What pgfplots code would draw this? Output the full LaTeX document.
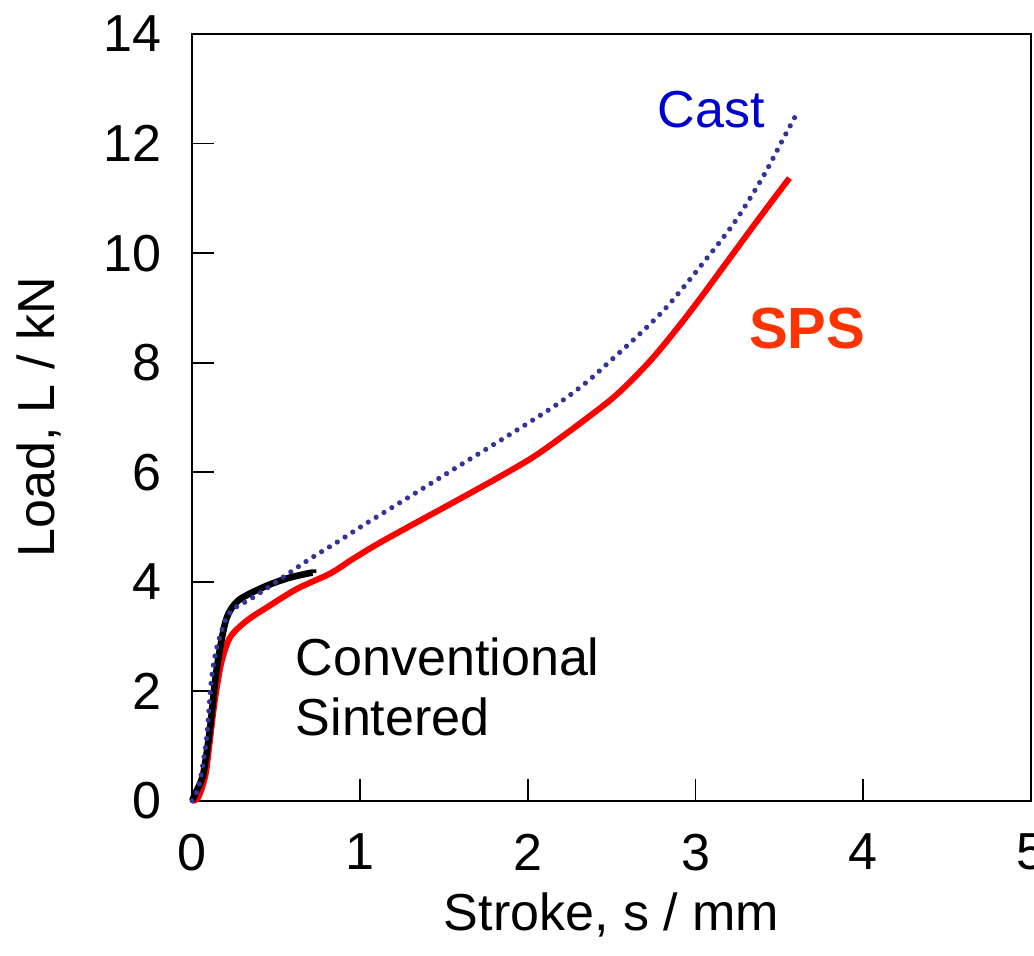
\documentclass[border=0pt]{standalone}
\usepackage{pgfplots}
\pgfplotsset{compat=1.18}
\usepackage{fontspec}
\setmainfont{Liberation Sans}

\definecolor{castdot}{HTML}{333399}
\definecolor{castlbl}{HTML}{0000CC}
\definecolor{spsline}{HTML}{FF0000}
\definecolor{spslbl}{HTML}{FF3300}

\begin{document}
\begin{tikzpicture}
\begin{axis}[
  scale only axis,
  width=419pt, height=383pt,
  xmin=0, xmax=5, ymin=0, ymax=14,
  xtick={0,1,2,3,4,5}, ytick={0,2,4,6,8,10,12,14},
  xtick pos=lower, ytick pos=left,
  tick align=inside,
  major tick length=11pt,
  axis line style={line width=1pt},
  every tick/.style={black, line width=0.9pt},
  tick label style={font=\fontsize{26}{30}\selectfont},
  /pgf/number format/assume math mode=true,
  xticklabel style={yshift=-13pt},
  yticklabel style={xshift=-12pt},
  xlabel={Stroke, s / mm},
  ylabel={Load, L / kN},
  label style={font=\fontsize{26}{30}\selectfont},
  xlabel style={yshift=-4pt},
  ylabel style={yshift=14pt},
  clip=false,
]
\coordinate (bl) at (rel axis cs:0,0);
\coordinate (tr) at (rel axis cs:1,1);

% SPS
\addplot[spsline, line width=3pt, smooth, tension=0.5] coordinates {
  (0,0) (0.036,0.06) (0.078,0.45) (0.100,0.95) (0.125,1.60) (0.147,2.07)
  (0.177,2.56) (0.227,2.99) (0.326,3.29) (0.445,3.53) (0.625,3.87)
  (0.823,4.15) (0.95,4.40) (1.10,4.68) (1.30,5.02) (1.54,5.42)
  (1.80,5.86) (2.035,6.28) (2.25,6.75) (2.49,7.31) (2.62,7.68)
  (2.75,8.10) (2.90,8.66) (3.03,9.18) (3.15,9.68) (3.27,10.18)
  (3.40,10.72) (3.56,11.37)
};

% Conventional sintered
\addplot[black, line width=3.3pt, smooth, tension=0.5] coordinates {
  (0,0) (0.018,0.13) (0.066,0.49) (0.107,1.34) (0.137,2.19) (0.167,2.80)
  (0.207,3.35) (0.276,3.66) (0.425,3.90) (0.565,4.06) (0.704,4.16) (0.72,4.16)
};

% Cast
\addplot[castdot, line width=2.6pt, line cap=round, dash pattern=on 0pt off 4.6pt, smooth, tension=0.5] coordinates {
  (0,0) (0.038,0.24) (0.067,0.73) (0.088,1.20) (0.107,1.95) (0.120,2.35)
  (0.147,2.80) (0.197,3.29) (0.245,3.50) (0.346,3.68) (0.445,3.88)
  (0.555,4.11) (0.704,4.42) (0.863,4.72) (1.03,5.05) (1.30,5.56)
  (1.625,6.18) (1.90,6.70) (2.166,7.22) (2.35,7.64) (2.51,8.08)
  (2.67,8.53) (2.83,9.02) (3.03,9.76) (3.23,10.55) (3.40,11.38)
  (3.52,12.07) (3.61,12.58)
};

\node[anchor=base west, inner sep=0pt, text=castlbl, font=\fontsize{26}{30}\selectfont]
  at (axis cs:2.774,12.30) {Cast};
\node[anchor=base west, inner sep=0pt, text=spslbl, font=\fontsize{29}{34}\selectfont\bfseries]
  at (axis cs:3.317,8.26) {SPS};
\node[anchor=base west, inner sep=0pt, font=\fontsize{26}{30}\selectfont]
  at (axis cs:0.615,2.285) {Conventional};
\node[anchor=base west, inner sep=0pt, font=\fontsize{26}{30}\selectfont]
  at (axis cs:0.615,1.19) {Sintered};
\end{axis}
\pgfresetboundingbox
\path ([shift={(-96pt,-77.5pt)}]bl) rectangle ([shift={(1.5pt,17pt)}]tr);
\end{tikzpicture}
\end{document}
